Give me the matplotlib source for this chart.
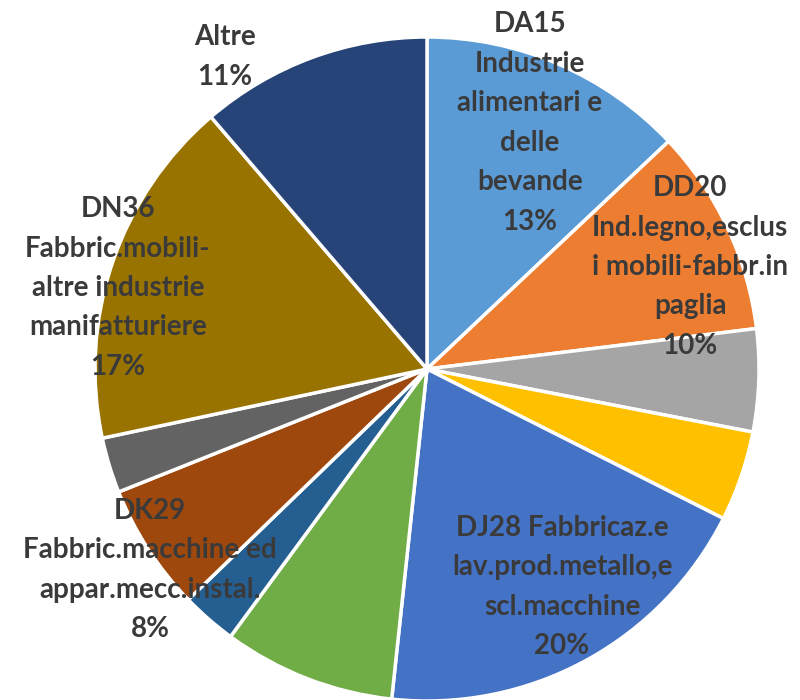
import matplotlib.pyplot as plt

# slices clockwise from 12 o'clock
sectors = ["DA15", "DD20", "s3", "s4", "DJ28", "s6", "s7", "DK29", "s9", "DN36", "Altre"]
shares = [13.0, 10.1, 5.0, 4.4, 19.3, 8.4, 2.7, 6.2, 2.7, 17.1, 11.3]
colors = ["#5B9BD5", "#ED7D31", "#A5A5A5", "#FFC000", "#4472C4", "#70AD47",
          "#255E91", "#9E480E", "#636363", "#997300", "#264478"]

label_texts = {
    "DA15": "DA15\nIndustrie\nalimentari e\ndelle\nbevande\n13%",
    "DD20": "DD20\nInd.legno,esclus\ni mobili-fabbr.in\npaglia\n10%",
    "DJ28": "DJ28 Fabbricaz.e\nlav.prod.metallo,e\nscl.macchine\n20%",
    "DK29": "DK29\nFabbric.macchine ed\nappar.mecc.instal.\n8%",
    "DN36": "DN36\nFabbric.mobili-\naltre industrie\nmanifatturiere\n17%",
    "Altre": "Altre\n11%",
}

# label block centres in pixels (x from left, y from top)
label_px = {
    "DA15": (530, 123),
    "DD20": (690, 267),
    "DJ28": (562, 587),
    "DK29": (150, 570),
    "DN36": (118, 288),
    "Altre": (225, 57),
}

W, H = 800, 700
CX, CY, R = 427, 369, 332


def main() -> None:
    fig = plt.figure(figsize=(8, 7), dpi=100)
    ax = fig.add_axes([(CX - R) / W, (H - CY - R) / H, 2 * R / W, 2 * R / H])
    ax.pie(
        shares,
        colors=colors,
        startangle=90,
        counterclock=False,
        wedgeprops=dict(edgecolor="white", linewidth=2.5),
    )
    ax.set_xlim(-1, 1)
    ax.set_ylim(-1, 1)
    ax.set_aspect("equal")
    ax.axis("off")

    for name, text in label_texts.items():
        px, py = label_px[name]
        ax.text(
            (px - CX) / R,
            (CY - py) / R,
            text,
            ha="center",
            va="center",
            fontsize=20,
            fontweight="bold",
            family=["Lato", "DejaVu Sans"],
            color="#3a3a3a",
            linespacing=1.64,
            clip_on=False,
        )

    fig.savefig("out.png", dpi=100)
    plt.close(fig)


if __name__ == "__main__":
    main()
